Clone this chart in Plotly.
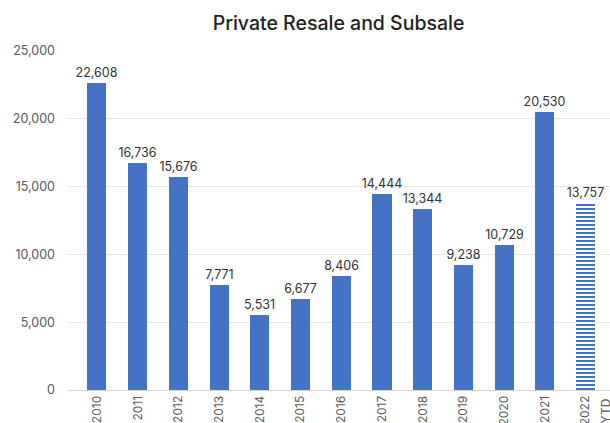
import plotly.graph_objects as go

years = ["2010", "2011", "2012", "2013", "2014", "2015", "2016", "2017", "2018", "2019", "2020", "2021", "2022"]
suffix_label = "YTD"
values = [22608, 16736, 15676, 7771, 5531, 6677, 8406, 14444, 13344, 9238, 10729, 20530, 13757]
labels = [f"{v:,}" for v in values]

blue = "#4472C4"
shapes = [""] * 12 + ["-"]

fig = go.Figure()
fig.add_trace(go.Bar(
    x=list(range(len(years))), y=values,
    width=0.47,
    marker=dict(color=blue, line=dict(width=0),
                pattern=dict(shape=shapes, fgcolor=blue, bgcolor="white", size=4, solidity=0.5, fillmode="replace")),
    text=labels, textposition="outside", cliponaxis=False, textangle=0, constraintext="none",
    textfont=dict(size=12.5, color="#333333", family="Inter"),
))

fig.add_annotation(
    x=len(years) - 1 + 0.5, y=0, xref="x", yref="y", yshift=-6,
    text=suffix_label, textangle=-90, showarrow=False, xanchor="center", yanchor="top",
    font=dict(size=12, color="#595959", family="Inter"),
)

fig.update_layout(
    width=610, height=423,
    margin=dict(l=68, r=0, t=51, b=33),
    paper_bgcolor="white", plot_bgcolor="white",
    showlegend=False,
    bargap=0,
    title=dict(text="Private Resale and Subsale", x=0.555, xanchor="center", y=0.945, yanchor="middle",
               font=dict(size=19.5, color="#222222", family="Inter", weight=500)),
    font=dict(family="Inter", color="#595959", size=12),
)
fig.update_xaxes(
    tickmode="array", tickvals=list(range(len(years))), ticktext=years,
    range=[-0.71, 12.6], tickangle=-90, showgrid=False, showline=True, automargin=False,
    linecolor="#d9d9d9", linewidth=1, ticks="", tickfont=dict(size=12, color="#595959"),
)
fig.update_yaxes(
    range=[0, 25000], tickvals=[0, 5000, 10000, 15000, 20000, 25000], automargin=False,
    tickformat=",", showgrid=True, gridcolor="#e6e6e6", gridwidth=1, zeroline=False,
    ticklabelstandoff=12, tickfont=dict(size=12.5, color="#595959"),
)
fig.write_html("out.html")
